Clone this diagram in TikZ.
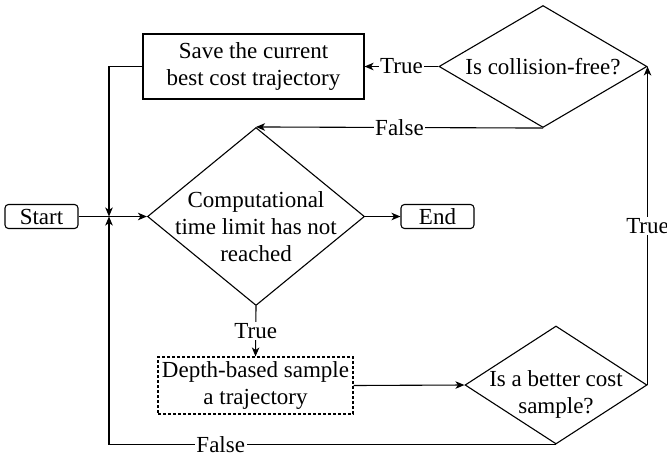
\documentclass[tikz,border=0pt]{standalone}
\usepackage{fontspec}
\setmainfont{Liberation Serif}
\usetikzlibrary{shapes.geometric,arrows.meta}
\begin{document}
\begin{tikzpicture}[x=1pt,y=-1pt,
  every node/.style={font=\fontsize{23}{27}\selectfont},
  line width=1.1pt,
  arr/.style={-{Stealth[length=9pt,width=7.5pt,inset=2.5pt]}},
  box/.style={draw,rectangle,inner sep=0pt,align=center},
  term/.style={draw,rectangle,rounded corners=3.5pt,inner sep=0pt,minimum width=73pt,minimum height=24pt},
  dec/.style={draw,diamond,inner sep=0pt},
  lbl/.style={fill=white,inner sep=1.5pt}]
\useasboundingbox (0,0) rectangle (667,459);
\node[term] (start) at (41.5,216.5) {Start};
\node[term] (endn) at (437.5,216.5) {End};
\node[dec,minimum width=217pt,minimum height=178pt,
  label={[align=center,yshift=-10pt]center:Computational\\time limit has not\\reached}] (cond) at (256,216.5) {};
\node[box,minimum width=221pt,minimum height=65pt] (save) at (253.5,66.5) {Save the current\\best cost trajectory};
\node[dec,minimum width=208pt,minimum height=122pt,
  label={[align=center]center:Is collision-free?}] (coll) at (543,66.5) {};
\node[box,dashed,dash pattern=on 3pt off 2pt,minimum width=195pt,minimum height=57pt] (sample) at (255.5,385.5) {Depth-based sample\\a trajectory};
\node[dec,minimum width=182pt,minimum height=118pt,
  label={[align=center,yshift=-9pt]center:Is a better cost\\sample?}] (better) at (556,385) {};
\coordinate (junc) at (109,216.5);
\draw[arr] (start) -- (cond);
\draw[arr] (cond) -- (endn);
\draw[arr] (save.west) -| (junc);
\draw[arr] (better.south) -- node[lbl,pos=0.75]{False} (better.south -| junc) -- (junc);
\draw[arr] (cond.south) -- node[lbl]{True} (sample.north);
\draw[arr] (sample.east) -- (better.west);
\draw[arr] (better.east) -- node[lbl]{True} (coll.east);
\draw[arr] (coll.west) -- node[lbl]{True} (save.east);
\draw[arr] (coll.south) -- node[lbl]{False} (cond.north);
\end{tikzpicture}
\end{document}
